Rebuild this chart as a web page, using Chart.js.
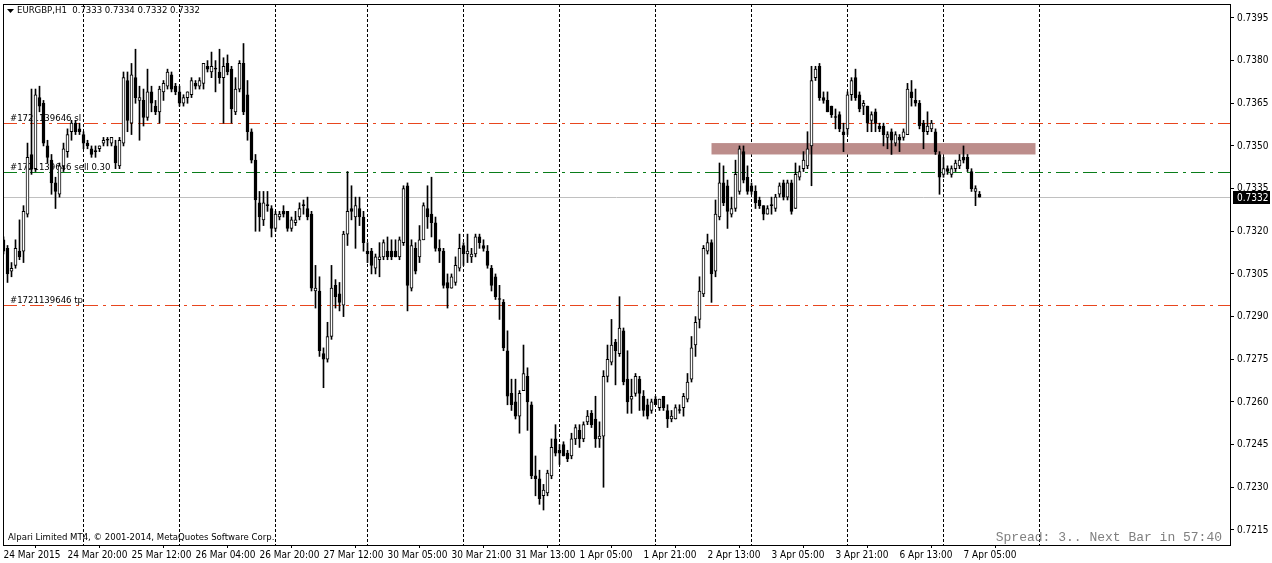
<!DOCTYPE html>
<html>
<head>
<meta charset="utf-8">
<title>EURGBP,H1</title>
<script src="https://cdn.jsdelivr.net/npm/chart.js@4.4.1/dist/chart.umd.min.js"></script>
<style>
  html, body { margin: 0; padding: 0; background: #fff; }
  #wrap { width: 1272px; height: 563px; }
</style>
</head>
<body>
<div id="wrap"><canvas id="chart" width="1272" height="563"></canvas></div>
<script>
const SYMBOL = "EURGBP";
const PERIOD = "H1";
const TICKET = "1721139646";

// hourly bars (price)
const open = [
  0.7317,0.7314,0.7306,0.7308,0.7313,0.7313,0.7326,0.7347,0.7342,0.7367,
  0.7365,0.7350,0.7345,0.7337,0.7333,0.7343,0.7348,0.7355,0.7358,0.7356,
  0.7354,0.7351,0.7349,0.7348,0.7349,0.7351,0.7352,0.7351,0.7350,0.7343,
  0.7351,0.7373,0.7358,0.7374,0.7366,0.7366,0.7360,0.7369,0.7364,0.7362,
  0.7369,0.7371,0.7375,0.7371,0.7369,0.7365,0.7367,0.7368,0.7372,0.7371,
  0.7372,0.7378,0.7376,0.7377,0.7376,0.7374,0.7379,0.7377,0.7362,0.7370,
  0.7379,0.7368,0.7355,0.7345,0.7330,0.7324,0.7329,0.7328,0.7321,0.7325,
  0.7327,0.7327,0.7321,0.7323,0.7325,0.7329,0.7328,0.7326,0.7299,0.7299,
  0.7277,0.7275,0.7283,0.7301,0.7298,0.7294,0.7319,0.7328,0.7325,0.7328,
  0.7325,0.7313,0.7313,0.7307,0.7310,0.7311,0.7313,0.7313,0.7313,0.7311,
  0.7316,0.7336,0.7300,0.7314,0.7311,0.7317,0.7328,0.7326,0.7323,0.7314,
  0.7313,0.7302,0.7300,0.7302,0.7307,0.7315,0.7312,0.7311,0.7312,0.7318,
  0.7315,0.7313,0.7307,0.7304,0.7296,0.7295,0.7278,0.7263,0.7260,0.7255,
  0.7264,0.7269,0.7259,0.7234,0.7233,0.7227,0.7228,0.7234,0.7247,0.7243,
  0.7245,0.7242,0.7241,0.7247,0.7250,0.7247,0.7253,0.7256,0.7254,0.7247,
  0.7248,0.7269,0.7274,0.7281,0.7277,0.7285,0.7268,0.7261,0.7263,0.7268,
  0.7262,0.7259,0.7257,0.7261,0.7258,0.7262,0.7257,0.7254,0.7254,0.7257,
  0.7258,0.7261,0.7268,0.7280,0.7289,0.7298,0.7313,0.7316,0.7306,0.7325,
  0.7337,0.7336,0.7326,0.7328,0.7334,0.7348,0.7339,0.7336,0.7334,0.7331,
  0.7329,0.7326,0.7329,0.7328,0.7333,0.7337,0.7332,0.7337,0.7328,0.7339,
  0.7342,0.7343,0.7350,0.7374,0.7378,0.7367,0.7366,0.7364,0.7360,0.7361,
  0.7355,0.7356,0.7368,0.7374,0.7368,0.7364,0.7364,0.7359,0.7362,0.7357,
  0.7357,0.7353,0.7355,0.7351,0.7353,0.7353,0.7354,0.7369,0.7366,0.7365,
  0.7358,0.7355,0.7356,0.7355,0.7347,0.7340,0.7342,0.7340,0.7342,0.7343,
  0.7346,0.7346,0.7341,0.7334,0.7333
];
const high = [
  0.7318,0.7315,0.7309,0.7317,0.7324,0.7329,0.7351,0.7370,0.7370,0.7371,
  0.7366,0.7352,0.7347,0.7339,0.7344,0.7351,0.7356,0.7359,0.7359,0.7358,
  0.7355,0.7352,0.7350,0.7350,0.7350,0.7353,0.7353,0.7353,0.7352,0.7353,
  0.7376,0.7376,0.7379,0.7384,0.7371,0.7370,0.7377,0.7371,0.7366,0.7371,
  0.7373,0.7377,0.7376,0.7372,0.7371,0.7368,0.7369,0.7374,0.7373,0.7374,
  0.7379,0.7380,0.7383,0.7380,0.7384,0.7381,0.7382,0.7378,0.7374,0.7380,
  0.7386,0.7373,0.7356,0.7347,0.7334,0.7334,0.7334,0.7329,0.7327,0.7327,
  0.7329,0.7327,0.7325,0.7327,0.7330,0.7331,0.7332,0.7327,0.7308,0.7304,
  0.7279,0.7288,0.7308,0.7303,0.7302,0.7320,0.7341,0.7336,0.7332,0.7332,
  0.7327,0.7316,0.7314,0.7312,0.7316,0.7317,0.7318,0.7317,0.7317,0.7318,
  0.7336,0.7337,0.7317,0.7316,0.7322,0.7330,0.7336,0.7339,0.7325,0.7317,
  0.7314,0.7305,0.7305,0.7311,0.7319,0.7316,0.7319,0.7314,0.7319,0.7319,
  0.7317,0.7315,0.7308,0.7305,0.7301,0.7296,0.7285,0.7268,0.7268,0.7264,
  0.7280,0.7272,0.7260,0.7241,0.7236,0.7231,0.7236,0.7247,0.7252,0.7245,
  0.7246,0.7243,0.7249,0.7252,0.7252,0.7253,0.7257,0.7257,0.7262,0.7253,
  0.7271,0.7280,0.7289,0.7282,0.7297,0.7286,0.7278,0.7268,0.7270,0.7269,
  0.7264,0.7261,0.7261,0.7262,0.7261,0.7262,0.7259,0.7257,0.7259,0.7259,
  0.7263,0.7270,0.7283,0.7290,0.7304,0.7315,0.7319,0.7317,0.7331,0.7344,
  0.7343,0.7338,0.7332,0.7345,0.7350,0.7350,0.7343,0.7337,0.7336,0.7332,
  0.7329,0.7329,0.7332,0.7333,0.7337,0.7338,0.7338,0.7338,0.7344,0.7343,
  0.7348,0.7355,0.7378,0.7378,0.7379,0.7369,0.7369,0.7364,0.7363,0.7362,
  0.7358,0.7369,0.7374,0.7377,0.7369,0.7366,0.7364,0.7362,0.7363,0.7358,
  0.7358,0.7355,0.7356,0.7355,0.7354,0.7356,0.7372,0.7373,0.7370,0.7366,
  0.7359,0.7362,0.7359,0.7356,0.7348,0.7346,0.7343,0.7343,0.7345,0.7347,
  0.7350,0.7347,0.7342,0.7336,0.7334
];
const low = [
  0.7312,0.7302,0.7304,0.7307,0.7310,0.7309,0.7325,0.7340,0.7341,0.7362,
  0.7350,0.7344,0.7333,0.7328,0.7332,0.7341,0.7346,0.7352,0.7354,0.7354,
  0.7349,0.7349,0.7346,0.7346,0.7348,0.7350,0.7350,0.7350,0.7342,0.7342,
  0.7350,0.7355,0.7354,0.7365,0.7352,0.7357,0.7359,0.7362,0.7361,0.7358,
  0.7366,0.7370,0.7369,0.7368,0.7364,0.7364,0.7365,0.7367,0.7370,0.7370,
  0.7370,0.7376,0.7374,0.7369,0.7372,0.7358,0.7375,0.7358,0.7361,0.7369,
  0.7361,0.7352,0.7344,0.7320,0.7320,0.7322,0.7327,0.7318,0.7320,0.7324,
  0.7325,0.7320,0.7320,0.7322,0.7324,0.7326,0.7324,0.7299,0.7293,0.7276,
  0.7265,0.7274,0.7282,0.7293,0.7292,0.7290,0.7315,0.7324,0.7314,0.7322,
  0.7313,0.7309,0.7305,0.7305,0.7304,0.7310,0.7310,0.7310,0.7311,0.7310,
  0.7315,0.7292,0.7299,0.7305,0.7309,0.7317,0.7321,0.7318,0.7313,0.7309,
  0.7300,0.7293,0.7300,0.7301,0.7306,0.7308,0.7309,0.7309,0.7311,0.7314,
  0.7313,0.7307,0.7299,0.7296,0.7289,0.7278,0.7259,0.7257,0.7254,0.7249,
  0.7264,0.7250,0.7233,0.7227,0.7224,0.7222,0.7227,0.7233,0.7241,0.7238,
  0.7241,0.7239,0.7240,0.7245,0.7244,0.7246,0.7252,0.7251,0.7244,0.7244,
  0.7230,0.7267,0.7273,0.7266,0.7276,0.7266,0.7256,0.7256,0.7262,0.7257,
  0.7255,0.7254,0.7256,0.7259,0.7257,0.7257,0.7251,0.7253,0.7254,0.7256,
  0.7255,0.7260,0.7267,0.7276,0.7286,0.7297,0.7312,0.7295,0.7304,0.7324,
  0.7329,0.7321,0.7325,0.7327,0.7333,0.7337,0.7333,0.7333,0.7328,0.7328,
  0.7324,0.7326,0.7326,0.7327,0.7332,0.7331,0.7331,0.7326,0.7328,0.7338,
  0.7341,0.7342,0.7336,0.7373,0.7366,0.7365,0.7362,0.7360,0.7356,0.7355,
  0.7348,0.7354,0.7366,0.7366,0.7362,0.7361,0.7355,0.7355,0.7355,0.7355,
  0.7350,0.7349,0.7347,0.7350,0.7348,0.7352,0.7354,0.7364,0.7364,0.7356,
  0.7349,0.7354,0.7355,0.7347,0.7333,0.7339,0.7340,0.7339,0.7341,0.7342,
  0.7344,0.7341,0.7334,0.7329,0.7332
];
const close = [
  0.7313,0.7305,0.7307,0.7314,0.7311,0.7327,0.7346,0.7342,0.7368,0.7364,
  0.7351,0.7346,0.7337,0.7334,0.7343,0.7349,0.7354,0.7358,0.7355,0.7355,
  0.7351,0.7350,0.7347,0.7348,0.7350,0.7352,0.7352,0.7353,0.7344,0.7352,
  0.7374,0.7359,0.7375,0.7367,0.7367,0.7360,0.7369,0.7365,0.7362,0.7370,
  0.7372,0.7376,0.7370,0.7369,0.7365,0.7367,0.7369,0.7373,0.7371,0.7373,
  0.7379,0.7377,0.7378,0.7377,0.7374,0.7378,0.7376,0.7363,0.7370,0.7379,
  0.7362,0.7355,0.7345,0.7331,0.7325,0.7330,0.7329,0.7321,0.7326,0.7326,
  0.7326,0.7321,0.7324,0.7324,0.7328,0.7329,0.7325,0.7300,0.7300,0.7278,
  0.7275,0.7283,0.7300,0.7297,0.7295,0.7319,0.7327,0.7327,0.7329,0.7325,
  0.7316,0.7312,0.7308,0.7311,0.7311,0.7316,0.7311,0.7311,0.7311,0.7317,
  0.7335,0.7301,0.7315,0.7306,0.7317,0.7329,0.7325,0.7323,0.7314,0.7313,
  0.7301,0.7300,0.7304,0.7308,0.7314,0.7312,0.7313,0.7312,0.7318,0.7316,
  0.7314,0.7308,0.7301,0.7297,0.7296,0.7279,0.7262,0.7259,0.7255,0.7263,
  0.7270,0.7260,0.7234,0.7233,0.7226,0.7229,0.7235,0.7244,0.7242,0.7242,
  0.7241,0.7240,0.7247,0.7251,0.7247,0.7252,0.7255,0.7252,0.7247,0.7248,
  0.7269,0.7275,0.7280,0.7278,0.7286,0.7267,0.7260,0.7262,0.7269,0.7263,
  0.7257,0.7255,0.7260,0.7259,0.7261,0.7258,0.7254,0.7255,0.7258,0.7257,
  0.7262,0.7267,0.7279,0.7288,0.7299,0.7314,0.7316,0.7305,0.7326,0.7337,
  0.7330,0.7327,0.7328,0.7340,0.7349,0.7338,0.7334,0.7334,0.7330,0.7329,
  0.7326,0.7328,0.7329,0.7332,0.7336,0.7332,0.7337,0.7327,0.7340,0.7341,
  0.7345,0.7349,0.7373,0.7377,0.7367,0.7366,0.7362,0.7361,0.7360,0.7356,
  0.7354,0.7368,0.7373,0.7367,0.7363,0.7365,0.7358,0.7361,0.7358,0.7356,
  0.7354,0.7354,0.7352,0.7354,0.7352,0.7355,0.7370,0.7367,0.7365,0.7357,
  0.7355,0.7357,0.7358,0.7348,0.7339,0.7342,0.7341,0.7342,0.7344,0.7345,
  0.7345,0.7342,0.7335,0.7335,0.7332
];

// one label every 16 bars, starting at bar 0
const timeLabels = [
  "24 Mar 2015", "24 Mar 20:00", "25 Mar 12:00", "26 Mar 04:00", "26 Mar 20:00",
  "27 Mar 12:00", "30 Mar 05:00", "30 Mar 21:00", "31 Mar 13:00", "1 Apr 05:00",
  "1 Apr 21:00", "2 Apr 13:00", "3 Apr 05:00", "3 Apr 21:00", "6 Apr 13:00", "7 Apr 05:00"
];
const LABEL_STEP = 16;
// first bar of each trading day (day separators)
const dayStarts = [20, 44, 68, 91, 115, 139, 163, 187, 211, 235, 259];
const SLOTS = 307;

const priceMin = 0.72097;
const priceMax = 0.73999;
const priceStep = 0.0015;

const slPrice = 0.7358;
const sellPrice = 0.7341;
const tpPrice = 0.7294;
const lots = 0.30;
const zone = { from: 177, to: 258, low: 0.7347, high: 0.7351 };

const spreadText = "Spread: 3.. Next Bar in 57:40";
const copyright = "Alpari Limited MT4, \u00a9 2001-2014, MetaQuotes Software Corp.";

const FONT = '"DejaVu Sans Condensed", "Liberation Sans", sans-serif';
const last = close.length - 1;

const overlay = {
  id: "overlay",
  beforeDatasetsDraw(chart) {
    const { ctx, chartArea: a, scales: { x, y } } = chart;
    const hy = (p) => Math.round(y.getPixelForValue(p)) + 0.5;
    ctx.save();
    ctx.beginPath();
    ctx.rect(a.left, a.top, a.right - a.left, a.bottom - a.top);
    ctx.clip();

    // day separators
    ctx.strokeStyle = "#000";
    ctx.lineWidth = 1;
    ctx.setLineDash([3, 2]);
    dayStarts.forEach((d) => {
      const px = Math.floor(x.getPixelForValue(d)) + 0.5;
      ctx.beginPath();
      ctx.moveTo(px, a.top);
      ctx.lineTo(px, a.bottom);
      ctx.stroke();
    });

    // rectangle object
    ctx.fillStyle = "#bc8d8b";
    const zx1 = x.getPixelForValue(zone.from);
    const zx2 = x.getPixelForValue(zone.to);
    const zy1 = y.getPixelForValue(zone.high);
    const zy2 = y.getPixelForValue(zone.low);
    ctx.fillRect(zx1, zy1, zx2 - zx1, zy2 - zy1);

    // current bid line
    ctx.setLineDash([]);
    ctx.strokeStyle = "#c0c0c0";
    ctx.beginPath();
    ctx.moveTo(a.left, hy(close[last]));
    ctx.lineTo(a.right, hy(close[last]));
    ctx.stroke();

    // order lines
    const orders = [
      [slPrice, "#e8461e", `#${TICKET} sl`],
      [sellPrice, "#0a7d1a", `#${TICKET} sell ${lots.toFixed(2)}`],
      [tpPrice, "#e8461e", `#${TICKET} tp`],
    ];
    ctx.setLineDash([14, 5, 3, 5]);
    orders.forEach(([p, color, text]) => {
      ctx.strokeStyle = color;
      ctx.beginPath();
      ctx.moveTo(a.left, hy(p));
      ctx.lineTo(a.right, hy(p));
      ctx.stroke();
      ctx.fillStyle = "#000";
      ctx.font = `9.5px ${FONT}`;
      ctx.textBaseline = "alphabetic";
      ctx.fillText(text, a.left + 7, hy(p) - 3);
    });
    ctx.restore();
  },
  afterDraw(chart) {
    const { ctx, chartArea: a, scales: { y } } = chart;
    ctx.save();
    ctx.strokeStyle = "#000";
    ctx.lineWidth = 1;
    ctx.strokeRect(a.left + 0.5, a.top + 0.5, a.right - a.left, a.bottom - a.top);

    // title
    ctx.fillStyle = "#000";
    ctx.beginPath();
    ctx.moveTo(a.left + 4, 9);
    ctx.lineTo(a.left + 11, 9);
    ctx.lineTo(a.left + 7.5, 13);
    ctx.closePath();
    ctx.fill();
    ctx.font = `9.5px ${FONT}`;
    ctx.textBaseline = "middle";
    const vals = [open[last], high[last], low[last], close[last]].map((v) => v.toFixed(4)).join(" ");
    ctx.fillText(`${SYMBOL},${PERIOD}  ${vals}`, a.left + 14, 11);

    // footer texts
    ctx.textBaseline = "alphabetic";
    ctx.fillText(copyright, a.left + 5, a.bottom - 5);
    ctx.fillStyle = "#808080";
    ctx.font = '13px "Liberation Mono", monospace';
    ctx.textAlign = "right";
    ctx.fillText(spreadText, a.right - 8, a.bottom - 4);

    // bid price tag
    const py = Math.round(y.getPixelForValue(close[last]));
    ctx.fillStyle = "#000";
    ctx.fillRect(a.right + 3, py - 6, 37, 13);
    ctx.fillStyle = "#fff";
    ctx.font = `10px ${FONT}`;
    ctx.textAlign = "left";
    ctx.textBaseline = "middle";
    ctx.fillText(close[last].toFixed(4), a.right + 7, py + 1);
    ctx.restore();
  },
};

new Chart(document.getElementById("chart"), {
  type: "bar",
  data: {
    datasets: [
      {
        label: "body",
        order: 0,
        data: open.map((o, i) => ({ x: i, y: [o, close[i]] })),
        barThickness: 3,
        backgroundColor: (c) => (close[c.dataIndex] > open[c.dataIndex] ? "#fff" : "#000"),
        borderColor: "#000",
        borderWidth: 1,
        borderSkipped: false,
        minBarLength: 1,
        grouped: false,
      },
      {
        label: "wick",
        order: 1,
        data: low.map((l, i) => ({ x: i, y: [l, high[i]] })),
        barThickness: 1,
        backgroundColor: "#000",
        borderWidth: 0,
        grouped: false,
      },
    ],
  },
  options: {
    responsive: false,
    animation: false,
    devicePixelRatio: 1,
    layout: { padding: { left: 3, top: 4, right: 0, bottom: 0 } },
    plugins: { legend: { display: false }, tooltip: { enabled: false } },
    scales: {
      x: {
        type: "linear",
        offset: false,
        min: -0.125,
        max: SLOTS - 0.375,
        afterBuildTicks: (s) => {
          s.ticks = timeLabels.map((_, k) => ({ value: k * LABEL_STEP }));
        },
        afterFit: (s) => {
          s.height = 18;
          s.paddingLeft = 0;
          s.paddingRight = 0;
        },
        ticks: {
          autoSkip: false,
          maxRotation: 0,
          minRotation: 0,
          align: "start",
          padding: 1,
          color: "#000",
          font: { family: FONT, size: 10 },
          callback: (v) => timeLabels[v / LABEL_STEP] ?? "",
        },
        grid: { drawOnChartArea: false, drawTicks: true, tickLength: 3, color: "#000" },
        border: { color: "#000" },
      },
      y: {
        position: "right",
        min: priceMin,
        max: priceMax,
        afterFit: (s) => {
          s.width = 42;
          s.paddingTop = 0;
          s.paddingBottom = 0;
        },
        ticks: {
          stepSize: priceStep,
          includeBounds: false,
          padding: 3,
          color: "#000",
          font: { family: FONT, size: 10 },
          callback: (v) => v.toFixed(4),
        },
        grid: { drawOnChartArea: false, drawTicks: true, tickLength: 4, color: "#000" },
        border: { color: "#000" },
      },
    },
  },
  plugins: [overlay],
});
</script>
</body>
</html>
